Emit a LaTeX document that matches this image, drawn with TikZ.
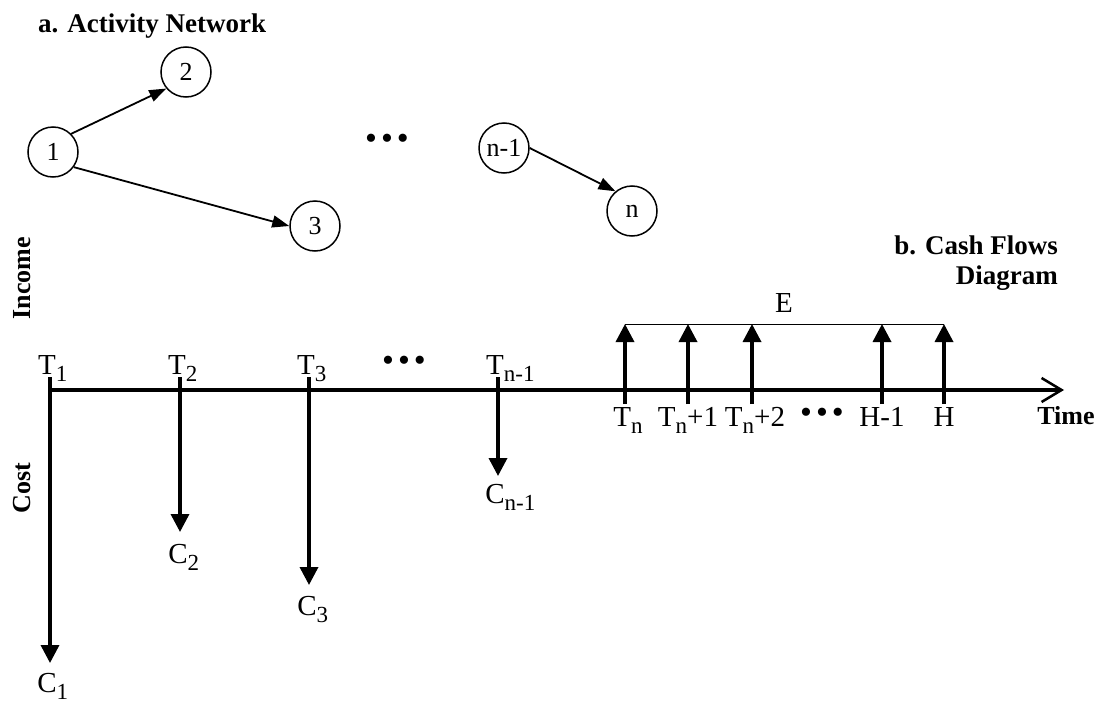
\documentclass[tikz,border=0pt]{standalone}
\usepackage{fontspec}
\setmainfont{Liberation Serif}
\usetikzlibrary{arrows.meta}
\newcommand\lbsub[1]{\raisebox{-0.26em}{\fontsize{23}{23}\selectfont #1}}
\begin{document}
\begin{tikzpicture}[x=1pt,y=-1pt,
  circ/.style={circle,draw,line width=1.5pt,minimum size=50pt,inner sep=0pt,font=\fontsize{26}{26}\selectfont},
  net/.style={line width=1.8pt,-{Triangle[length=17pt,width=12pt]}},
  ttl/.style={font=\fontsize{27}{27}\selectfont\bfseries,inner sep=0pt},
  axt/.style={font=\fontsize{26}{26}\selectfont\bfseries,inner sep=0pt},
  lbl/.style={font=\fontsize{29}{29}\selectfont,inner sep=0pt},
  dotsl/.style={font=\fontsize{34}{34}\selectfont,inner sep=0pt},
  flow/.style={line width=3.5pt,-{Triangle[length=18pt,width=18pt]}},
  axisl/.style={line width=4pt,-{Straight Barb[length=20pt,width=24pt,line width=2.5pt]}},
  evline/.style={line width=1pt}
]
\useasboundingbox (0,0) rectangle (1105,704);

% a. Activity network
\node[ttl,anchor=base west] (ta) at (38,32) {a. Activity Network};
\node[circ] (n1) at (53,152) {1};
\node[circ] (n2) at (186,72) {2};
\node[circ] (n3) at (315,226) {3};
\node[circ] (nm) at (504,148) {n-1};
\node[circ] (nn) at (632,211) {n};
\draw[net] (n1.45) -- (n2.220);
\draw[net] (n1.-36) -- (n3.180);
\draw[net] (nm.0) -- (nn.130);
\node[dotsl] (d1) at (387,142) {•\hspace{4pt}•\hspace{4pt}•};

% b. Cash flows diagram
\node[ttl,anchor=base east] (tb1) at (1058,254) {b. Cash Flows};
\node[ttl,anchor=base east] (tb2) at (1058,284) {Diagram};
\node[axt,rotate=90] (inc) at (22,278) {Income};
\node[axt,rotate=90] (cst) at (22,488) {Cost};

% axis
\coordinate (o) at (50,390);
\coordinate (tend) at (1064,390);
\draw[axisl] (o) -- (tend);
\node[axt,anchor=base] (time) at (1066,424) {Time};

% costs
\node[lbl,anchor=base] (t1) at (47,374) {T\rlap{\lbsub{1}}};
\node[lbl,anchor=base] (t2) at (177,374) {T\rlap{\lbsub{2}}};
\node[lbl,anchor=base] (t3) at (306,374) {T\rlap{\lbsub{3}}};
\node[lbl,anchor=base] (tm) at (495,374) {T\rlap{\lbsub{n-1}}};
\node[dotsl] (d2) at (404,364) {•\hspace{4pt}•\hspace{4pt}•};

\coordinate (a1) at (50,377);  \coordinate (b1) at (50,663);
\coordinate (a2) at (180,377); \coordinate (b2) at (180,532);
\coordinate (a3) at (309,377); \coordinate (b3) at (309,585);
\coordinate (am) at (498,377); \coordinate (bm) at (498,476);
\draw[flow] (a1) -- (b1);
\draw[flow] (a2) -- (b2);
\draw[flow] (a3) -- (b3);
\draw[flow] (am) -- (bm);

\node[lbl,anchor=base] (c1) at (47,692) {C\rlap{\lbsub{1}}};
\node[lbl,anchor=base] (c2) at (178,563) {C\rlap{\lbsub{2}}};
\node[lbl,anchor=base] (c3) at (307,615) {C\rlap{\lbsub{3}}};
\node[lbl,anchor=base] (cm) at (495,503) {C\rlap{\lbsub{n-1}}};

% incomes
\foreach \i/\x in {1/625,2/688,3/752,4/882,5/944}{
  \coordinate (u\i) at (\x,404);
  \coordinate (v\i) at (\x,324);
  \draw[flow] (u\i) -- (v\i);
}
\draw[evline] (v1) -- (v5);
\node[lbl,anchor=base] (e) at (784,312) {E};

\node[lbl,anchor=base] (l1) at (628,426) {T\lbsub{n}};
\node[lbl,anchor=base] (l2) at (688,426) {T\lbsub{n}+1};
\node[lbl,anchor=base] (l3) at (755,426) {T\lbsub{n}+2};
\node[dotsl] (d3) at (822,416) {•\hspace{4pt}•\hspace{4pt}•};
\node[lbl,anchor=base] (l4) at (882,426) {H-1};
\node[lbl,anchor=base] (l5) at (944,426) {H};
\end{tikzpicture}
\end{document}
